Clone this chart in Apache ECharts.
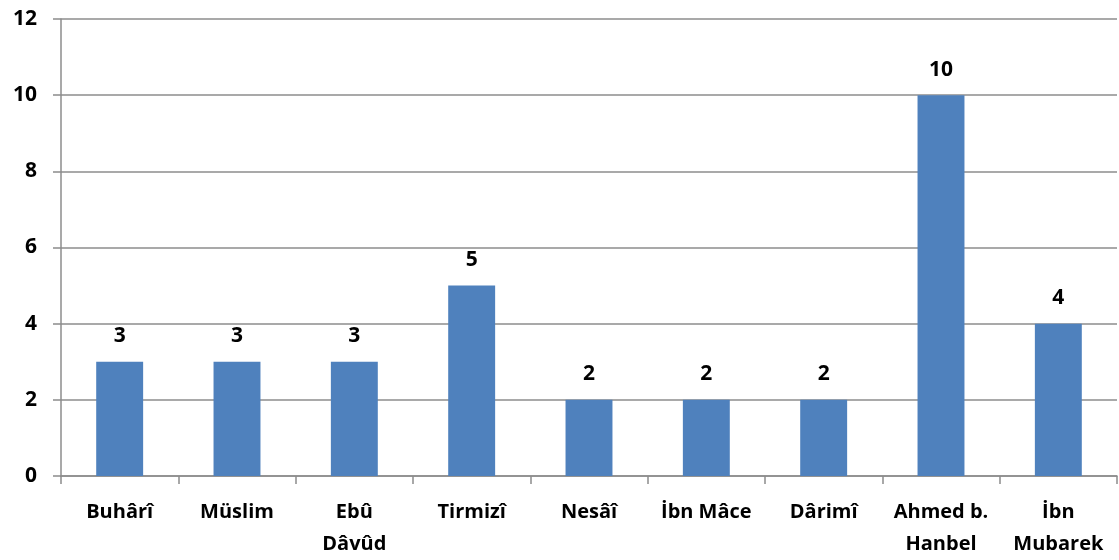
<!DOCTYPE html>
<html>
<head>
<meta charset="utf-8">
<script src="https://cdn.jsdelivr.net/npm/echarts@6/dist/echarts.min.js"></script>
<style>html,body{margin:0;padding:0;background:#fff}#c{width:1119px;height:560px}</style>
</head>
<body>
<div id="c"></div>
<script>
const categories = ["Buhârî", "Müslim", "Ebû\nDâvûd", "Tirmizî", "Nesâî", "İbn Mâce", "Dârimî", "Ahmed b.\nHanbel", "İbn\nMubarek"];
const values = [3, 3, 3, 5, 2, 2, 2, 10, 4];
const yTicks = [0, 2, 4, 6, 8, 10, 12];

const chart = echarts.init(document.getElementById('c'), null, {renderer: 'canvas'});
const font = '"Open Sans", sans-serif';
chart.setOption({
  animation: false,
  grid: {left: 61, right: 2, top: 19, bottom: 80},
  xAxis: {
    type: 'category',
    data: categories,
    axisLine: {lineStyle: {color: '#8c8c8c', width: 1.5}},
    axisTick: {show: true, length: 8, lineStyle: {color: '#8c8c8c', width: 1.5}},
    axisLabel: {color: '#000', fontWeight: 'bold', fontSize: 20, fontFamily: font, margin: 20, lineHeight: 32, interval: 0}
  },
  yAxis: {
    type: 'value',
    min: yTicks[0], max: yTicks[yTicks.length - 1], interval: 2,
    axisLine: {show: true, lineStyle: {color: '#8c8c8c', width: 1.5}},
    axisTick: {show: true, length: 8, lineStyle: {color: '#8c8c8c', width: 1.5}},
    splitLine: {lineStyle: {color: '#8c8c8c', width: 1.5}},
    axisLabel: {color: '#000', fontWeight: 'bold', fontSize: 21, fontFamily: font, margin: 24}
  },
  series: [{
    type: 'bar',
    data: values,
    barWidth: '40%',
    itemStyle: {color: '#4F81BD'},
    label: {show: true, position: 'top', distance: 15, color: '#000', fontWeight: 'bold', fontSize: 21, fontFamily: font}
  }]
});
</script>
</body>
</html>
